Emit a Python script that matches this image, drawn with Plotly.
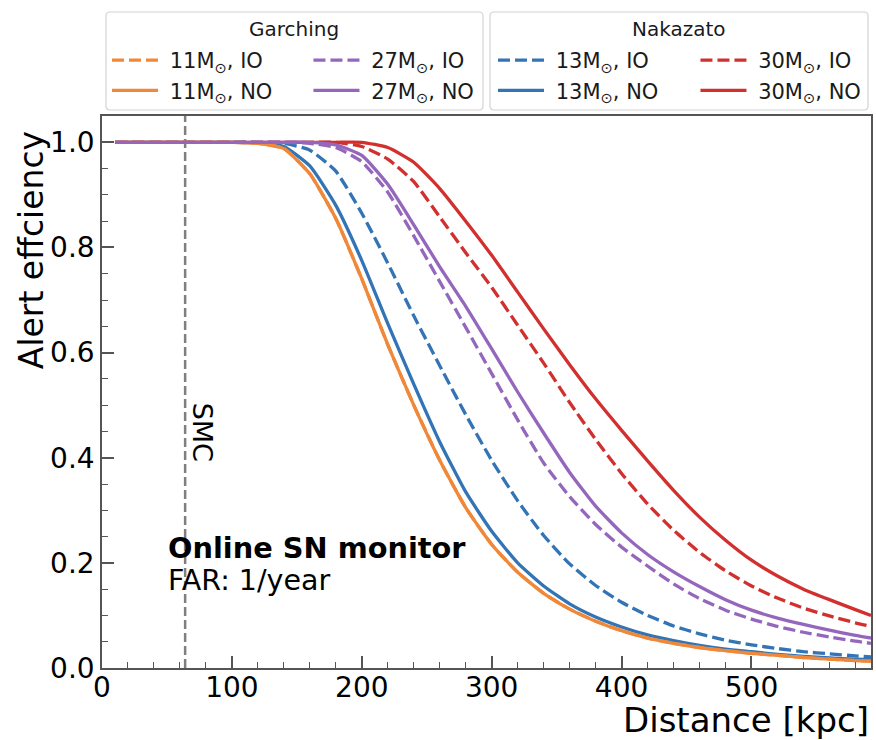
import plotly.graph_objects as go

# ---------------- data ----------------
distance_kpc = [10, 100, 120, 140, 160, 180, 200, 220, 240, 260, 280, 300, 320, 340, 360,
                380, 400, 420, 440, 460, 480, 500, 520, 540, 560, 580, 592]

garching_11_io = [1.0, 1.0, 0.998, 0.988, 0.94, 0.855, 0.74, 0.615, 0.50, 0.395, 0.305, 0.235, 0.182,
                  0.142, 0.112, 0.089, 0.071, 0.057, 0.047, 0.039, 0.033, 0.028, 0.024, 0.020,
                  0.017, 0.014, 0.013]
garching_11_no = [1.0, 1.0, 0.998, 0.988, 0.94, 0.855, 0.74, 0.615, 0.50, 0.395, 0.305, 0.235, 0.182,
                  0.142, 0.112, 0.089, 0.071, 0.057, 0.047, 0.039, 0.033, 0.028, 0.024, 0.020,
                  0.017, 0.014, 0.013]
garching_27_io = [1.0, 1.0, 1.0, 1.0, 0.998, 0.99, 0.963, 0.905, 0.822, 0.735, 0.648, 0.56, 0.472,
                  0.39, 0.326, 0.273, 0.23, 0.194, 0.16, 0.132, 0.11, 0.093, 0.079, 0.068,
                  0.059, 0.051, 0.047]
garching_27_no = [1.0, 1.0, 1.0, 1.0, 1.0, 0.995, 0.975, 0.92, 0.843, 0.763, 0.688, 0.607, 0.525,
                  0.447, 0.372, 0.308, 0.257, 0.216, 0.183, 0.155, 0.13, 0.11, 0.095, 0.083,
                  0.072, 0.062, 0.057]
nakazato_13_io = [1.0, 1.0, 1.0, 0.998, 0.985, 0.945, 0.865, 0.77, 0.67, 0.575, 0.482, 0.395, 0.318,
                  0.252, 0.198, 0.157, 0.125, 0.10, 0.08, 0.065, 0.053, 0.044, 0.037, 0.031,
                  0.027, 0.023, 0.021]
nakazato_13_no = [1.0, 1.0, 0.999, 0.992, 0.955, 0.88, 0.775, 0.655, 0.54, 0.43, 0.335, 0.26, 0.20,
                  0.156, 0.122, 0.097, 0.078, 0.063, 0.052, 0.043, 0.036, 0.031, 0.026, 0.022,
                  0.019, 0.017, 0.016]
nakazato_30_io = [1.0, 1.0, 1.0, 1.0, 1.0, 1.0, 0.992, 0.968, 0.925, 0.858, 0.79, 0.724, 0.652,
                  0.58, 0.505, 0.435, 0.37, 0.312, 0.262, 0.22, 0.185, 0.156, 0.133, 0.114,
                  0.099, 0.086, 0.079]
nakazato_30_no = [1.0, 1.0, 1.0, 1.0, 1.0, 1.0, 1.0, 0.99, 0.962, 0.912, 0.85, 0.785, 0.715,
                  0.645, 0.577, 0.512, 0.452, 0.394, 0.338, 0.287, 0.243, 0.205, 0.175, 0.15,
                  0.13, 0.111, 0.10]

smc_distance_kpc = 64
x_ticks = [0, 100, 200, 300, 400, 500]
y_ticks = [0.0, 0.2, 0.4, 0.6, 0.8, 1.0]

# ---------------- layout geometry ----------------
W, H = 876, 740
ML, MR, MT, MB = 102, 3, 116, 72
PW = W - ML - MR
PH = H - MT - MB


def px_x(px):
    return (px - ML) / PW


def px_y(py):
    return (H - MB - py) / PH


FONT = "DejaVu Sans"
ORANGE = "#f0883a"
PURPLE = "#9467bd"
BLUE = "#3274b5"
RED = "#d1302f"
DASH = "12px,5px"
LW = 3.3
NB = "\u00a0"

fig = go.Figure()

# SMC marker line
fig.add_trace(go.Scatter(x=[smc_distance_kpc, smc_distance_kpc], y=[0, 1.05], mode="lines",
                         line=dict(color="#7f7f7f", width=2.5, dash="9px,4px"),
                         showlegend=False, hoverinfo="skip"))

series = [
    (nakazato_13_io, "13M<sub>⊙</sub>, IO", BLUE, DASH, "legend3"),
    (nakazato_13_no, "13M<sub>⊙</sub>, NO", BLUE, "solid", "legend3"),
    (nakazato_30_io, "30M<sub>⊙</sub>, IO", RED, DASH, "legend4"),
    (nakazato_30_no, "30M<sub>⊙</sub>, NO", RED, "solid", "legend4"),
    (garching_11_io, "11M<sub>⊙</sub>, IO", ORANGE, DASH, "legend"),
    (garching_11_no, "11M<sub>⊙</sub>, NO", ORANGE, "solid", "legend"),
    (garching_27_io, "27M<sub>⊙</sub>, IO", PURPLE, DASH, "legend2"),
    (garching_27_no, "27M<sub>⊙</sub>, NO", PURPLE, "solid", "legend2"),
]
for vals, name, color, dash, leg in series:
    fig.add_trace(go.Scatter(x=distance_kpc, y=vals, mode="lines", name=NB + name,
                             line=dict(color=color, width=LW, dash=dash, shape="spline", smoothing=0.5),
                             legend=leg))

legend_common = dict(xanchor="left", yanchor="top", bgcolor="rgba(0,0,0,0)", borderwidth=0,
                     font=dict(family=FONT, size=21, color="#1a1a1a"), itemwidth=46,
                     orientation="v", tracegroupgap=0)
legend_top = px_y(40)
fig.update_layout(
    legend=dict(x=px_x(107), y=legend_top, **legend_common),
    legend2=dict(x=px_x(309), y=legend_top, **legend_common),
    legend3=dict(x=px_x(494), y=legend_top, **legend_common),
    legend4=dict(x=px_x(697), y=legend_top, **legend_common),
)


def rounded_box(x0p, y0p, x1p, y1p, r=4):
    x0, x1 = px_x(x0p), px_x(x1p)
    yt, yb = px_y(y0p), px_y(y1p)
    rx, ry = r / PW, r / PH
    return (f"M{x0+rx},{yt} L{x1-rx},{yt} Q{x1},{yt} {x1},{yt-ry} "
            f"L{x1},{yb+ry} Q{x1},{yb} {x1-rx},{yb} L{x0+rx},{yb} "
            f"Q{x0},{yb} {x0},{yb+ry} L{x0},{yt-ry} Q{x0},{yt} {x0+rx},{yt} Z")


shapes = []
for box in [(106, 12, 484, 110), (491, 12, 870, 110)]:
    shapes.append(dict(type="path", xref="paper", yref="paper", path=rounded_box(*box),
                       line=dict(color="#d3d3d3", width=1.2), fillcolor="rgba(255,255,255,0.8)",
                       layer="below"))

annotations = [
    dict(text="Garching", x=px_x(295), y=px_y(29), xref="paper", yref="paper",
         showarrow=False, xanchor="center", yanchor="middle", font=dict(family=FONT, size=20, color="#1a1a1a")),
    dict(text="Nakazato", x=px_x(680.5), y=px_y(29), xref="paper", yref="paper",
         showarrow=False, xanchor="center", yanchor="middle", font=dict(family=FONT, size=20, color="#1a1a1a")),
    dict(text="Distance [kpc]", x=1.0, y=px_y(720), xref="paper", yref="paper",
         showarrow=False, xanchor="right", yanchor="middle", font=dict(family=FONT, size=34, color="black")),
    dict(text="Alert effciency", x=px_x(31), y=px_y(129), xref="paper", yref="paper", textangle=-90,
         showarrow=False, xanchor="center", yanchor="top", font=dict(family=FONT, size=33, color="black")),
    dict(text="<b>Online SN monitor</b>", x=49, y=0.228, xref="x", yref="y",
         showarrow=False, xanchor="left", yanchor="middle", font=dict(family=FONT, size=28.8, color="black")),
    dict(text="FAR: 1/year", x=49, y=0.167, xref="x", yref="y",
         showarrow=False, xanchor="left", yanchor="middle", font=dict(family=FONT, size=28.5, color="black")),
    dict(text="SMC", x=77.2, y=0.449, xref="x", yref="y", textangle=90,
         showarrow=False, xanchor="center", yanchor="middle", font=dict(family=FONT, size=27, color="black")),
]

axis_common = dict(showgrid=False, zeroline=False, showline=True, linecolor="#555555", linewidth=1.5,
                   mirror=True, ticks="inside", ticklen=12, tickwidth=1.5, tickcolor="#555555",
                   tickfont=dict(family=FONT, size=28, color="black"))
fig.update_layout(
    width=W, height=H, margin=dict(l=ML, r=MR, t=MT, b=MB),
    paper_bgcolor="white", plot_bgcolor="white",
    font=dict(family=FONT),
    xaxis=dict(range=[0, 592], tickvals=x_ticks, ticktext=[str(v) for v in x_ticks],
               ticklabelstandoff=-6,
               minor=dict(ticks="inside", dtick=20, tick0=0, ticklen=6, tickwidth=1.2, tickcolor="#555555"),
               **axis_common),
    yaxis=dict(range=[0, 1.05], tickvals=y_ticks, ticktext=[f"{v:.1f}" for v in y_ticks],
               minor=dict(ticks="inside", dtick=0.05, tick0=0, ticklen=6, tickwidth=1.2, tickcolor="#555555"),
               **axis_common),
    shapes=shapes, annotations=annotations,
)

fig.write_html("out.html")
